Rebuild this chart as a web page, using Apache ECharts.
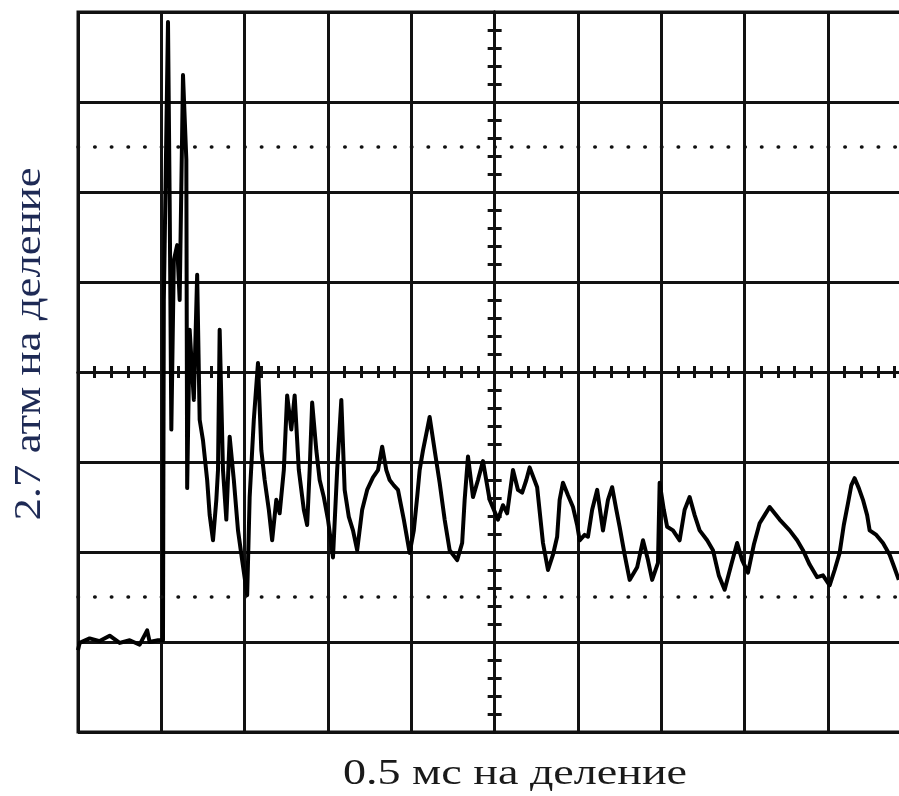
<!DOCTYPE html>
<html>
<head>
<meta charset="utf-8">
<script src="https://cdn.jsdelivr.net/npm/echarts@6/dist/echarts.min.js"></script>
<style>
  html, body { margin: 0; padding: 0; background: #fff; }
  #scope { width: 899px; height: 796px; }
</style>
</head>
<body>
<div id="scope"></div>
<script>
// screen units: divisions from the screen centre (10 x 8 grid)
const timeDiv = [
  -5.00, -4.98, -4.86, -4.74, -4.62, -4.50, -4.38, -4.26, -4.17, -4.14, -4.04, -3.98,
  -3.97, -3.92, -3.90, -3.88, -3.85, -3.81, -3.78, -3.74, -3.70, -3.69, -3.66, -3.61,
  -3.57, -3.54, -3.50, -3.45, -3.42, -3.38, -3.34, -3.32, -3.30, -3.26, -3.22, -3.18,
  -3.13, -3.08, -3.03, -2.97, -2.94, -2.89, -2.84, -2.80, -2.76, -2.71, -2.67, -2.62,
  -2.58, -2.53, -2.49, -2.44, -2.40, -2.35, -2.29, -2.25, -2.22, -2.19, -2.14, -2.10,
  -2.05, -2.00, -1.94, -1.89, -1.84, -1.80, -1.75, -1.70, -1.65, -1.59, -1.53, -1.46,
  -1.40, -1.35, -1.30, -1.26, -1.21, -1.16, -1.09, -1.02, -0.97, -0.93, -0.90, -0.86,
  -0.81, -0.78, -0.72, -0.66, -0.60, -0.54, -0.45, -0.39, -0.36, -0.32, -0.26, -0.20,
  -0.14, -0.06, 0.04, 0.10, 0.15, 0.22, 0.28, 0.33, 0.38, 0.42, 0.51, 0.58,
  0.64, 0.70, 0.75, 0.78, 0.82, 0.88, 0.94, 0.99, 1.02, 1.08, 1.12, 1.17,
  1.23, 1.30, 1.36, 1.41, 1.46, 1.50, 1.56, 1.62, 1.71, 1.78, 1.84, 1.89,
  1.96, 1.98, 2.03, 2.07, 2.14, 2.22, 2.28, 2.34, 2.40, 2.46, 2.55, 2.62,
  2.69, 2.76, 2.84, 2.91, 2.97, 3.04, 3.11, 3.18, 3.24, 3.30, 3.42, 3.54,
  3.63, 3.70, 3.78, 3.87, 3.94, 4.02, 4.08, 4.14, 4.19, 4.24, 4.28, 4.32,
  4.37, 4.42, 4.47, 4.50, 4.58, 4.66, 4.74, 4.80, 4.85
];
const signalDiv = [
  -3.09, -3.01, -2.96, -2.99, -2.93, -3.01, -2.98, -3.03, -2.87, -3.00, -2.98, -2.98,
  0.80, 3.89, 1.91, -0.64, 1.24, 1.41, 0.80, 3.30, 2.36, -1.29, 0.47, -0.31,
  1.08, -0.53, -0.76, -1.20, -1.59, -1.87, -1.42, -1.09, 0.47, -1.09, -1.64, -0.72,
  -1.20, -1.76, -2.09, -2.48, -1.39, -0.53, 0.10, -0.87, -1.20, -1.53, -1.87, -1.42,
  -1.57, -1.09, -0.26, -0.64, -0.26, -1.09, -1.53, -1.70, -1.09, -0.34, -0.87, -1.20,
  -1.39, -1.64, -2.06, -1.09, -0.31, -1.31, -1.61, -1.76, -1.98, -1.53, -1.31, -1.17,
  -1.09, -0.83, -1.09, -1.20, -1.26, -1.31, -1.64, -2.01, -1.76, -1.39, -1.09, -0.87,
  -0.64, -0.50, -0.87, -1.23, -1.64, -1.98, -2.09, -1.90, -1.42, -0.94, -1.39, -1.20,
  -0.99, -1.42, -1.64, -1.48, -1.57, -1.09, -1.31, -1.34, -1.20, -1.06, -1.28, -1.90,
  -2.20, -2.03, -1.83, -1.42, -1.23, -1.37, -1.50, -1.70, -1.87, -1.81, -1.83, -1.53,
  -1.31, -1.76, -1.42, -1.28, -1.53, -1.72, -2.03, -2.31, -2.17, -1.87, -2.09, -2.31,
  -2.12, -1.23, -1.53, -1.72, -1.76, -1.87, -1.53, -1.39, -1.59, -1.76, -1.87, -1.98,
  -2.26, -2.42, -2.14, -1.90, -2.09, -2.23, -1.92, -1.68, -1.59, -1.50, -1.64, -1.76,
  -1.87, -1.98, -2.14, -2.28, -2.26, -2.37, -2.20, -2.01, -1.70, -1.46, -1.26, -1.18,
  -1.29, -1.42, -1.59, -1.76, -1.81, -1.90, -2.03, -2.18, -2.31
];
const dottedLevels = [2.5, -2.5];
const xLabel = '0.5 мс на деление';
const yLabel = '2.7 атм на деление';

const ink = '#111';
const chart = echarts.init(document.getElementById('scope'));

const centreX = (pos) => ({
  type: 'value', min: -5, max: 5, interval: 1, position: pos,
  axisLine: { onZero: true, lineStyle: { color: ink, width: 3 } },
  axisTick: { show: false },
  minorTick: { show: true, splitNumber: 5, length: 6, lineStyle: { color: ink, width: 3 } },
  axisLabel: { show: false },
  splitLine: { show: pos === 'bottom', lineStyle: { color: ink, width: 3 } }
});
const centreY = (pos) => ({
  type: 'value', min: -4, max: 4, interval: 1, position: pos,
  axisLine: { onZero: true, lineStyle: { color: ink, width: 3 } },
  axisTick: { show: false },
  minorTick: { show: true, splitNumber: 5, length: 7, lineStyle: { color: ink, width: 3 } },
  axisLabel: { show: false },
  splitLine: { show: pos === 'left', lineStyle: { color: ink, width: 3 } }
});

chart.setOption({
  animation: false,
  backgroundColor: '#fff',
  grid: {
    left: 78, top: 12, width: 833.3, height: 720,
    outerBoundsMode: 'none',
    show: true, borderColor: ink, borderWidth: 3, backgroundColor: 'transparent'
  },
  xAxis: [centreX('bottom'), centreX('top')],
  yAxis: [centreY('left'), centreY('right')],
  graphic: [
    {
      type: 'text', x: 515, y: 775, scaleX: 1.28,
      style: {
        text: xLabel, fill: '#1a1a1a', font: '36px "Liberation Serif"',
        textAlign: 'center', textVerticalAlign: 'middle'
      }
    },
    {
      type: 'text', x: 30, y: 344, rotation: Math.PI / 2, scaleX: 1.18,
      style: {
        text: yLabel, fill: '#1e2a55', font: '38px "Liberation Serif"',
        textAlign: 'center', textVerticalAlign: 'middle'
      }
    }
  ],
  series: [
    {
      type: 'line',
      data: timeDiv.map((t, i) => [t, signalDiv[i]]),
      showSymbol: false,
      lineStyle: { color: '#000', width: 4, join: 'round' },
      markLine: {
        silent: true,
        symbol: ['none', 'none'],
        label: { show: false },
        lineStyle: { color: ink, width: 3.5, type: [0.5, 16.17], cap: 'round', dashOffset: 0 },
        data: dottedLevels.map((v) => ({ yAxis: v }))
      }
    }
  ]
});
</script>
</body>
</html>
